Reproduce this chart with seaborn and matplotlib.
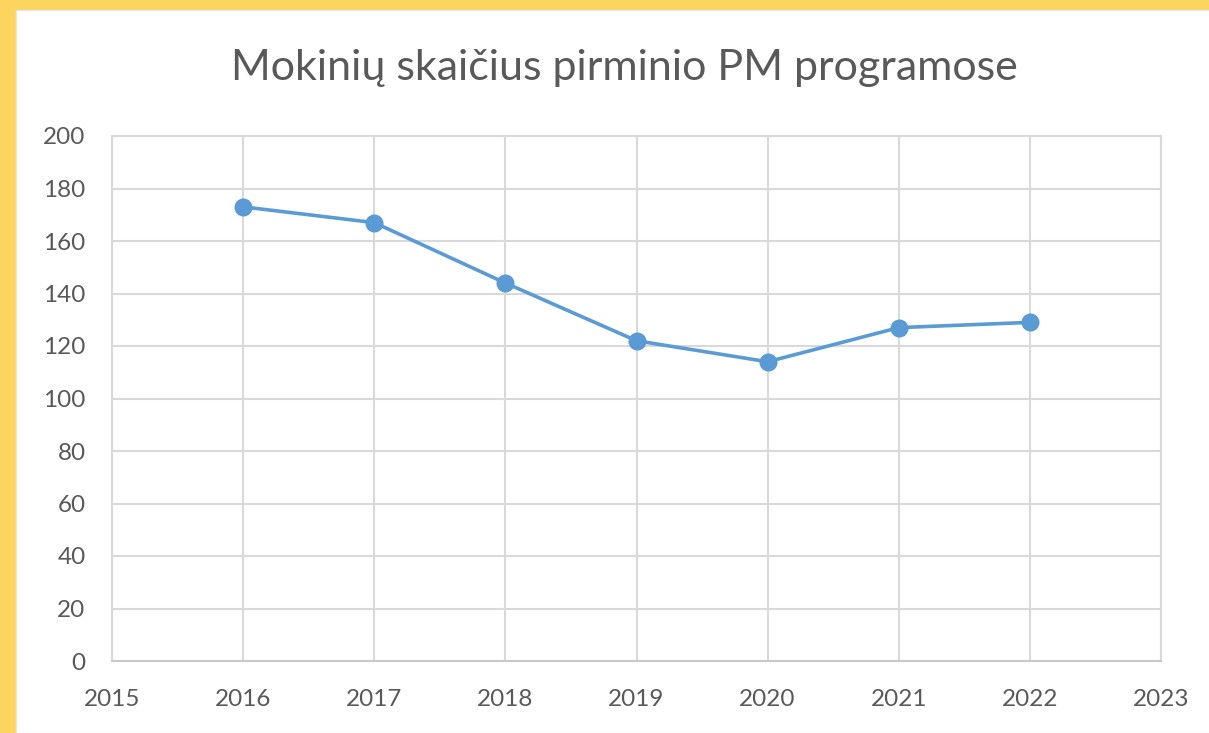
import pandas as pd
import numpy as np
import matplotlib.pyplot as plt
import seaborn as sns
from matplotlib.patches import Rectangle

# Duomenys
years = [2016, 2017, 2018, 2019, 2020, 2021, 2022]
students = [173, 167, 144, 122, 114, 127, 129]
x_ticks = [2015, 2016, 2017, 2018, 2019, 2020, 2021, 2022, 2023]
y_ticks = [0, 20, 40, 60, 80, 100, 120, 140, 160, 180, 200]
title = 'Mokinių skaičius pirminio PM programose'

df = pd.DataFrame({'year': years, 'students': students})

sns.set_style('white')
plt.rcParams['font.family'] = ['Lato', 'DejaVu Sans']

fig = plt.figure(figsize=(12.09, 7.33), dpi=100, facecolor='#FDD55E')
# baltas fonas su geltonu rėmeliu kairėje ir viršuje
fig.patches.append(Rectangle((16 / 1209, 0), 1, 1 - 10 / 733,
                             transform=fig.transFigure, facecolor='white',
                             edgecolor='#e6e6e6', lw=1.0, zorder=-10))

ax = fig.add_axes([112 / 1209, 72 / 733, (1161 - 112) / 1209, (661 - 136) / 733])
ax.set_facecolor('white')

sns.lineplot(data=df, x='year', y='students', ax=ax, color='#5B9BD5',
             linewidth=2.6, marker='o', markersize=13, markeredgewidth=0,
             zorder=3)

ax.set_xlim(2015, 2023)
ax.set_ylim(0, 200)
ax.set_xticks(x_ticks)
ax.set_yticks(y_ticks)
ax.set_xlabel('')
ax.set_ylabel('')
ax.grid(True, color='#d9d9d9', linewidth=1.5)
ax.set_axisbelow(True)
for s in ax.spines.values():
    s.set_color('#d9d9d9')
    s.set_linewidth(1.5)
ax.spines['bottom'].set_color('#c8c8c8')
ax.tick_params(axis='both', length=0, labelsize=17.5, labelcolor='#595959')
ax.tick_params(axis='x', pad=20)
ax.tick_params(axis='y', pad=19)

fig.text(624 / 1209, 1 - 68 / 733, title, ha='center', va='center',
         fontsize=31, color='#595959')

plt.savefig('out.png', dpi=100, facecolor=fig.get_facecolor())
